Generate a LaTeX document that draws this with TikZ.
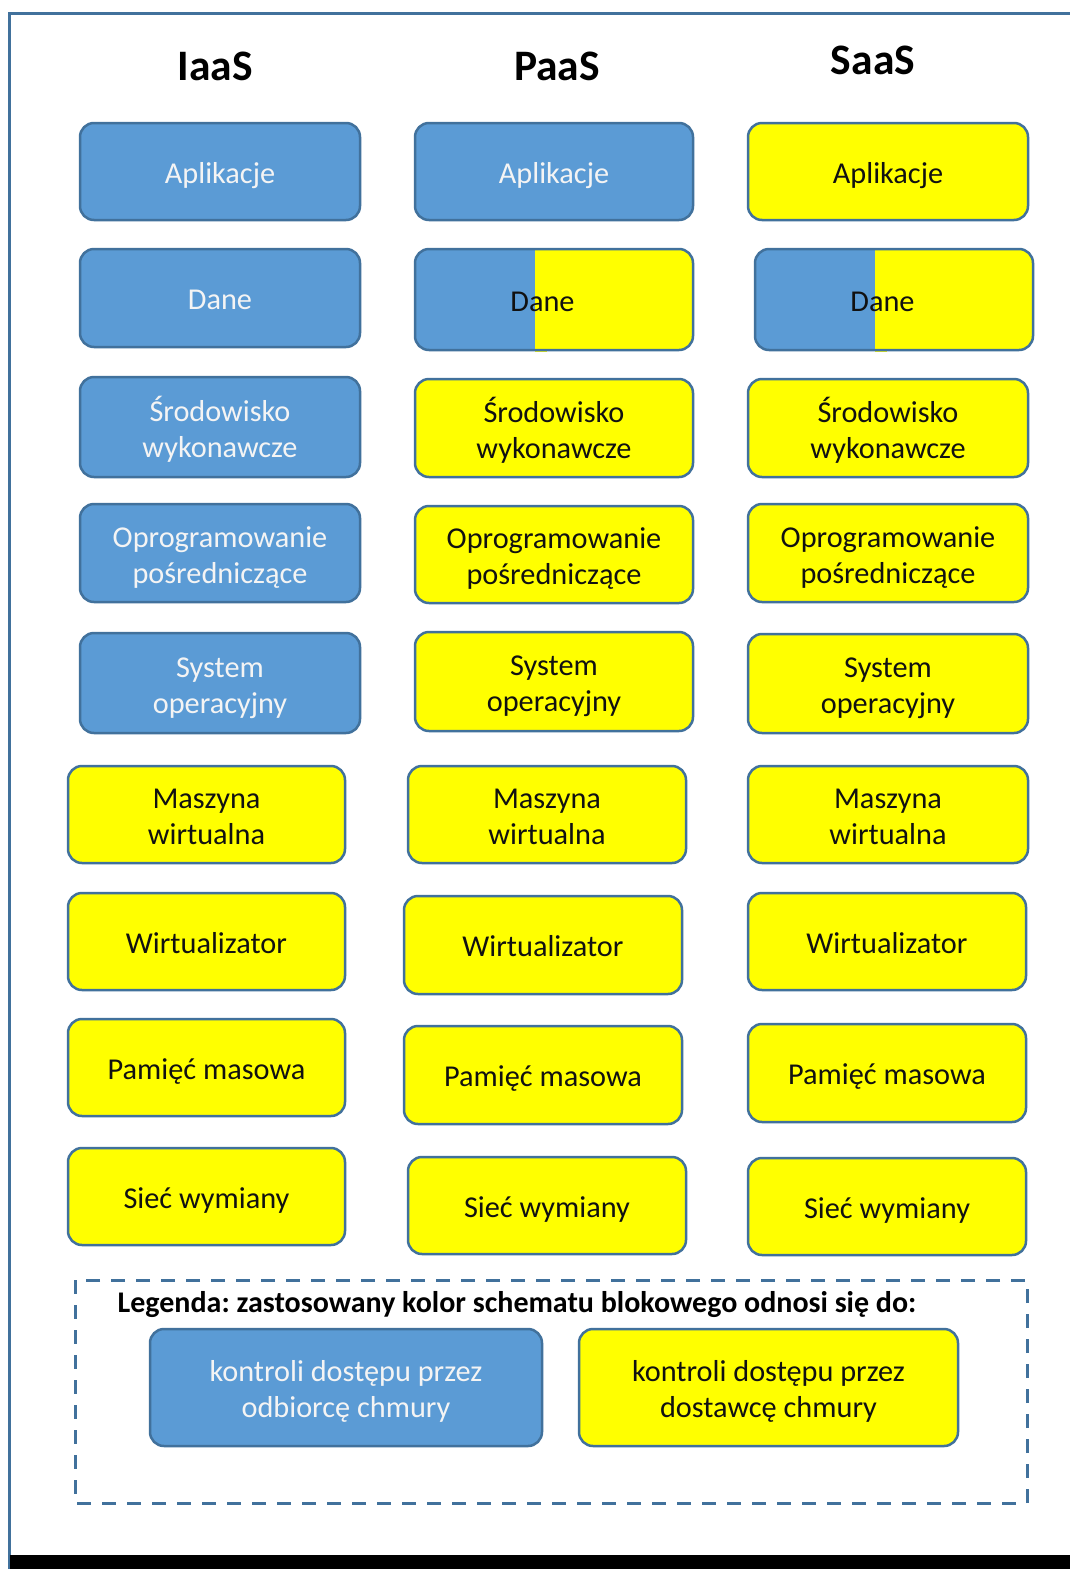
\documentclass[tikz,border=0pt]{standalone}
\usepackage{fontspec}
\setmainfont{Carlito}
\frenchspacing
\definecolor{cblue}{HTML}{5B9BD5}
\definecolor{cyel}{HTML}{FFFF00}
\definecolor{cline}{HTML}{41719C}
\definecolor{ctxtw}{HTML}{F4F4F4}
\definecolor{ctxtd}{HTML}{111111}
% line struts: keep single and double lines centred like the office layout
\newcommand\tstrut{\rule[-6.5pt]{0pt}{36pt}}
\newcommand\tstruttall{\rule[-6.5pt]{0pt}{73pt}}
% generic cell: style, name, x1, y1, x2, y2, text
\newcommand\cell[7]{%
  \node[#1,minimum width={(#5-#3)*1pt},minimum height={(#6-#4)*1pt}]
    (#2) at ({(#3+#5)/2},{(#4+#6)/2}) {#7};}
% two-coloured cell: name, x1, y1, x2, y2, split x, text (set slightly left of centre)
\newcommand\splitcell[7]{%
  \fill[cblue,rounded corners=14pt] (#2,#3) rectangle (#4,#5);
  \begin{scope}
    \clip (#6,{#3-5}) rectangle ({#4+5},{#5+5});
    \fill[cyel,rounded corners=14pt] (#2,#3) rectangle (#4,#5);
  \end{scope}
  \fill[cyel] (#6,{#3+1}) rectangle ({#6+12},{#5+2});
  \node[cellbase,text=ctxtd,minimum width={(#4-#2)*1pt},minimum height={(#5-#3)*1pt}]
    (#1) at ({(#2+#4)/2},{(#3+#5)/2}) {#7\hspace*{23pt}};}
\begin{document}
\begin{tikzpicture}[x=1pt,y=-1pt,
  cellbase/.style={draw=cline,line width=2.5pt,rounded corners=14pt,inner sep=0pt,
    align=center,font=\fontsize{30.3}{36}\selectfont,
    execute at begin node=\tstrut,execute at end node=\tstrut},
  dbl/.style={execute at begin node=\tstruttall},
  bluecell/.style={cellbase,fill=cblue,text=ctxtw},
  yelcell/.style={cellbase,fill=cyel,text=ctxtd},
  heading/.style={font=\bfseries\fontsize{43.5}{50}\selectfont,anchor=base,inner sep=0pt},
  frameline/.style={draw=cline,line width=3pt}]
\useasboundingbox (0,0) rectangle (1070,1569);
\fill[white] (0,0) rectangle (1070,1569);

% outer frame
\draw[frameline] (9,1569) -- (9,13) -- (1070,13);
\fill[black] (10,1555) rectangle (1070,1569);

% column headings
\node[heading] (hi) at (215,80) {IaaS};
\node[heading] (hp) at (557,80) {PaaS};
\node[heading] (hs) at (873,74) {SaaS};

% IaaS column
\cell{bluecell}{i1}{80}{123}{360}{220}{Aplikacje}
\cell{bluecell}{i2}{80}{249}{360}{347}{Dane}
\cell{bluecell,dbl}{i3}{80}{377}{360}{477}{Środowisko\\wykonawcze}
\cell{bluecell,dbl}{i4}{80}{504}{360}{602}{Oprogramowanie\\pośredniczące}
\cell{bluecell,dbl}{i5}{80}{633}{360}{733}{System\\operacyjny}
\cell{yelcell,dbl}{i6}{68}{766}{345}{863}{Maszyna\\wirtualna}
\cell{yelcell}{i7}{68}{893}{345}{990}{Wirtualizator}
\cell{yelcell}{i8}{68}{1019}{345}{1116}{Pamięć masowa}
\cell{yelcell}{i9}{68}{1148}{345}{1245}{Sieć wymiany}

% PaaS column
\cell{bluecell}{p1}{415}{123}{693}{220}{Aplikacje}
\splitcell{p2}{415}{249}{693}{350}{535}{Dane}
\cell{yelcell,dbl}{p3}{415}{379}{693}{477}{Środowisko\\wykonawcze}
\cell{yelcell,dbl}{p4}{415}{506}{693}{603}{Oprogramowanie\\pośredniczące}
\cell{yelcell,dbl}{p5}{415}{632}{693}{731}{System\\operacyjny}
\cell{yelcell,dbl}{p6}{408}{766}{686}{863}{Maszyna\\wirtualna}
\cell{yelcell}{p7}{404}{896}{682}{994}{Wirtualizator}
\cell{yelcell}{p8}{404}{1026}{682}{1124}{Pamięć masowa}
\cell{yelcell}{p9}{408}{1157}{686}{1254}{Sieć wymiany}

% SaaS column
\cell{yelcell}{s1}{748}{123}{1028}{220}{Aplikacje}
\splitcell{s2}{755}{249}{1033}{350}{875}{Dane}
\cell{yelcell,dbl}{s3}{748}{379}{1028}{477}{Środowisko\\wykonawcze}
\cell{yelcell,dbl}{s4}{748}{504}{1028}{602}{Oprogramowanie\\pośredniczące}
\cell{yelcell,dbl}{s5}{748}{634}{1028}{733}{System\\operacyjny}
\cell{yelcell,dbl}{s6}{748}{766}{1028}{863}{Maszyna\\wirtualna}
\cell{yelcell}{s7}{748}{893}{1026}{990}{Wirtualizator}
\cell{yelcell}{s8}{748}{1024}{1026}{1122}{Pamięć masowa}
\cell{yelcell}{s9}{748}{1158}{1026}{1255}{Sieć wymiany}

% legend
\draw[draw=cline,line width=3pt,dash pattern=on 14pt off 11pt] (75,1280) rectangle (1027,1503);
\node[font=\bfseries\fontsize{30}{34}\selectfont,anchor=base,inner sep=0pt] (lt) at (517,1312)
  {Legenda: zastosowany kolor schematu blokowego odnosi się do:};
\cell{bluecell,dbl}{l1}{150}{1329}{542}{1446}{kontroli dostępu przez\\odbiorcę chmury}
\cell{yelcell,dbl}{l2}{579}{1329}{958}{1446}{kontroli dostępu przez\\dostawcę chmury}
\end{tikzpicture}
\end{document}
